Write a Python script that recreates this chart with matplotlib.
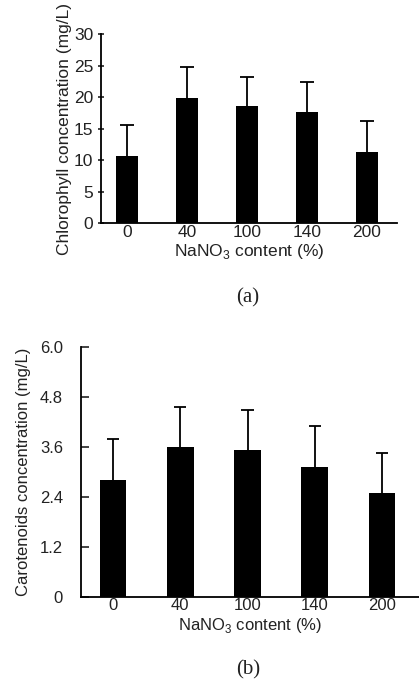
import matplotlib
matplotlib.use("Agg")
import matplotlib.pyplot as plt

plt.rcParams['font.family'] = ['Liberation Sans', 'DejaVu Sans']
plt.rcParams['mathtext.fontset'] = 'custom'
plt.rcParams['mathtext.rm'] = 'Liberation Sans'

# NaNO3 content levels (%)
categories = ["0", "40", "100", "140", "200"]

# (a) chlorophyll, mg/L
chl_mean = [10.7, 19.9, 18.6, 17.6, 11.3]
chl_err = [4.9, 4.9, 4.6, 4.8, 4.9]
chl_ticks = [0, 5, 10, 15, 20, 25, 30]

# (b) carotenoids, mg/L
car_mean = [2.80, 3.59, 3.51, 3.12, 2.49]
car_err = [0.98, 0.97, 0.97, 0.97, 0.97]
car_ticks = [0, 1.2, 2.4, 3.6, 4.8, 6.0]
car_tick_labels = ["0", "1.2", "2.4", "3.6", "4.8", "6.0"]


def draw_panel(ax, means, errs, width, cap):
    x = list(range(len(categories)))
    ax.bar(x, means, width=width, color='black', zorder=2)
    # only the upper half of each error bar is drawn
    tops = [m + e for m, e in zip(means, errs)]
    ax.vlines(x, means, tops, color='black', linewidth=1.3, zorder=1)
    ax.hlines(tops, [i - cap for i in x], [i + cap for i in x],
              color='black', linewidth=1.3, zorder=1)
    ax.spines['top'].set_visible(False)
    ax.spines['right'].set_visible(False)
    ax.spines['left'].set_linewidth(1.3)
    ax.spines['bottom'].set_linewidth(1.3)
    ax.set_xticks(x)
    ax.set_xticklabels(categories)
    ax.tick_params(axis='x', length=0, pad=1, colors='#222222')


fig = plt.figure(figsize=(4.19, 6.80), dpi=100)

# panel (a)
ax1 = fig.add_axes([0.241, 0.6716, 0.7065, 0.278])
draw_panel(ax1, chl_mean, chl_err, 0.38, 0.12)
ax1.set_xlim(-0.433, 4.5)
ax1.set_ylim(0, 30)
ax1.set_yticks(chl_ticks)
ax1.tick_params(axis='y', direction='inout', length=5, width=1.2, pad=3,
                colors='#222222')
ax1.tick_params(labelsize=12.5)
ax1.set_ylabel("Chlorophyll concentration (mg/L)", fontsize=12.5,
               color='#222222', labelpad=1)
ax1.set_xlabel("NaNO$_\\mathregular{3}$ content (%)", fontsize=12.5,
               color='#222222', labelpad=2)
fig.text(0.592, 1 - 298 / 680, "(a)", ha='center', va='center',
         family='Liberation Serif', fontsize=15, color='#222222')

# panel (b)
ax2 = fig.add_axes([0.1933, 0.1225, 0.8067, 0.3676])
draw_panel(ax2, car_mean, car_err, 0.40, 0.09)
ax2.set_xlim(-0.476, 4.55)
ax2.set_ylim(0, 6.0)
ax2.set_yticks(car_ticks)
ax2.set_yticklabels(car_tick_labels)
ax2.tick_params(axis='y', direction='in', length=6, width=1.2, pad=13,
                colors='#222222')
ax2.tick_params(labelsize=12)
ax2.set_ylabel("Carotenoids concentration (mg/L)", fontsize=12,
               color='#222222', labelpad=6)
ax2.set_xlabel("NaNO$_\\mathregular{3}$ content (%)", fontsize=12,
               color='#222222', labelpad=2)
fig.text(0.592, 1 - 670 / 680, "(b)", ha='center', va='center',
         family='Liberation Serif', fontsize=15, color='#222222')

fig.savefig("out.png", dpi=100)
